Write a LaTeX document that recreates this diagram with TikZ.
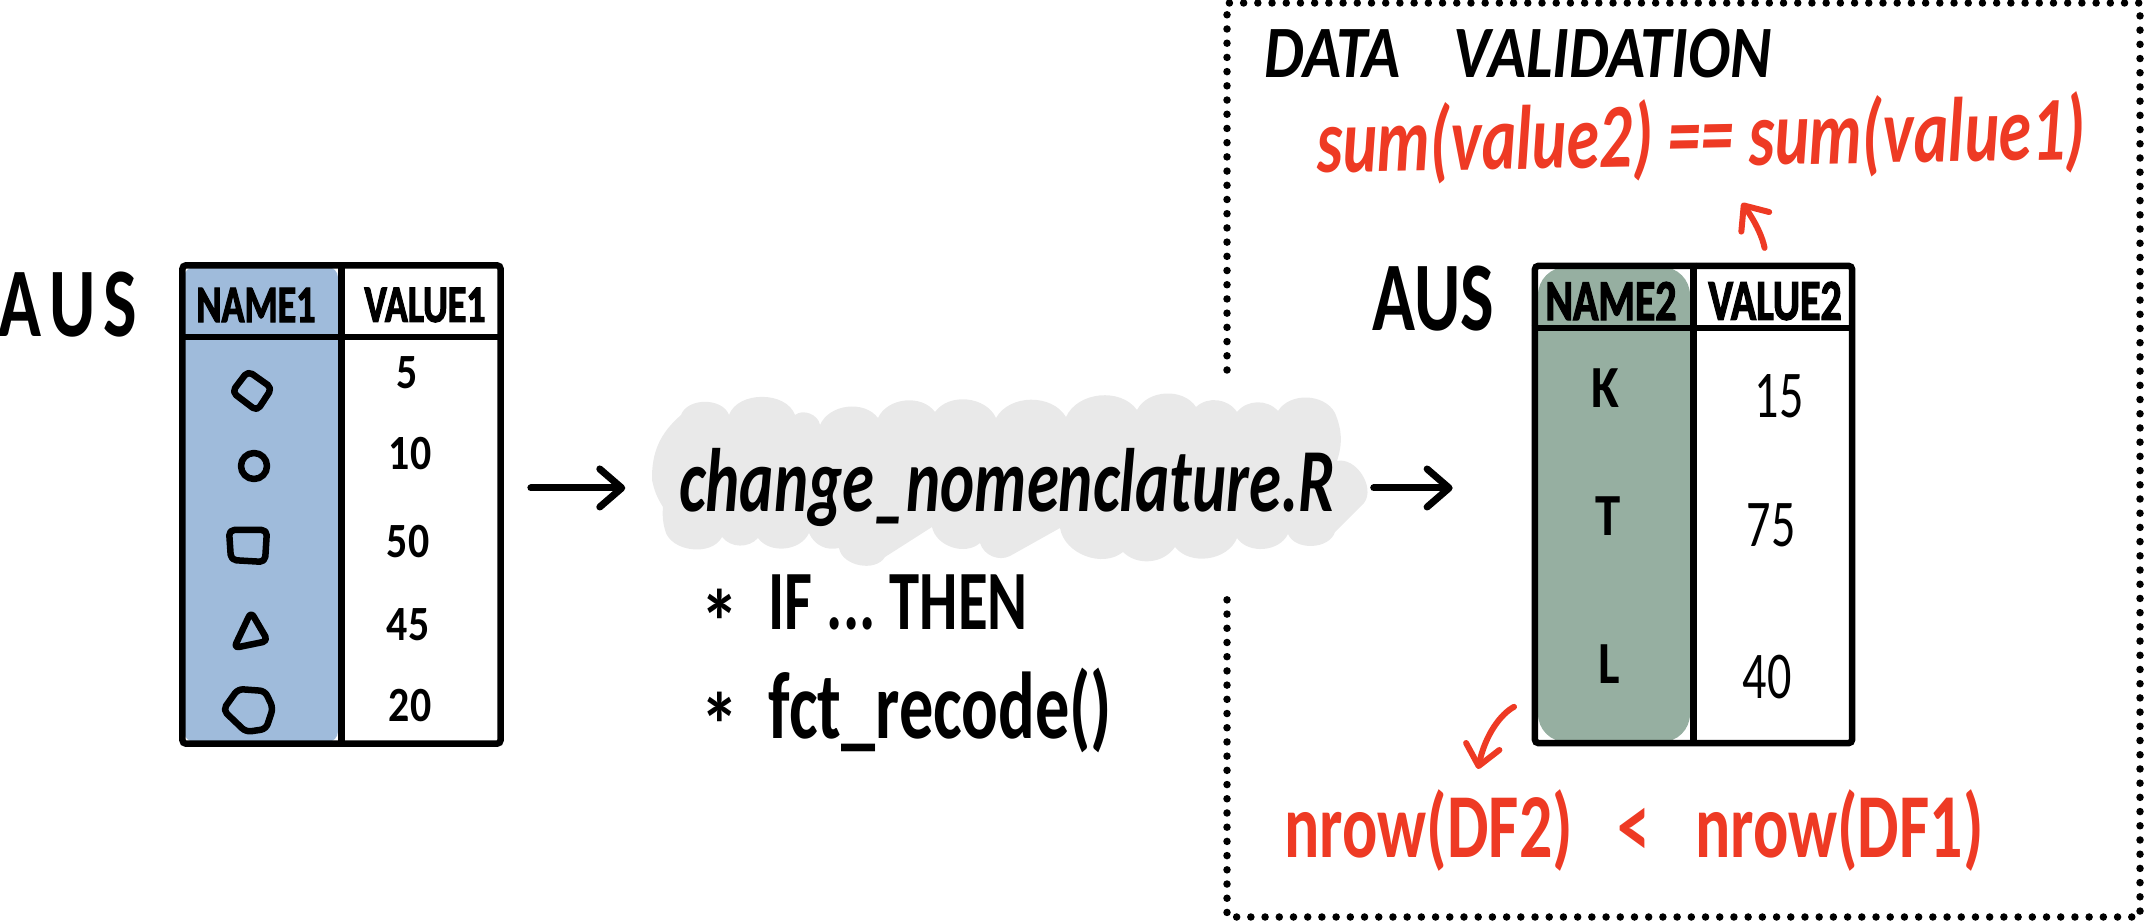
\documentclass[tikz,border=0pt]{standalone}
\usepackage{fontspec}
\setmainfont[FakeStretch=0.85]{Carlito}
\newfontfamily\handfont[FakeStretch=0.72]{Carlito}
\newfontfamily\heavyfont[FakeStretch=0.72,FakeBold=2]{Carlito Bold}
\usetikzlibrary{arrows.meta}
\definecolor{colblue}{HTML}{9FBBDB}
\definecolor{colgreen}{HTML}{96AFA1}
\definecolor{colcloud}{HTML}{E9E9E9}
\definecolor{colred}{HTML}{EE3A24}
\tikzset{tablebox/.style = {draw, line width=0.065cm, rectangle, rounded corners=1pt, minimum width=3.18cm, minimum height=4.78cm, inner sep=0pt},
         hdline/.style = {line width=0.065cm},
         scribble/.style = {draw, line width=0.065cm, line join=round, rounded corners=1.5pt},
         handarrow/.style = {line width=0.07cm, line cap=round, -{Straight Barb[length=0.22cm, width=0.38cm, round]}},
         redarrow/.style = {line width=0.06cm, colred, line cap=round, -{Straight Barb[length=0.2cm, width=0.34cm, round]}},
         hdtext/.style = {font=\heavyfont\fontsize{15}{15}\selectfont, inner sep=0pt},
         hdtextb/.style = {font=\heavyfont\fontsize{16.5}{16}\selectfont, inner sep=0pt},
         cell/.style = {font=\fontsize{14}{14}\selectfont\bfseries, inner sep=0pt},
         bigcell/.style = {font=\handfont\fontsize{19}{19}\selectfont, inner sep=0pt},
         lettercell/.style = {font=\fontsize{17}{17}\selectfont\bfseries, inner sep=0pt},
         aus/.style = {font=\handfont\fontsize{28}{28}\selectfont\bfseries, inner sep=0pt},
         note/.style = {font=\handfont\fontsize{24}{24}\selectfont\bfseries, inner sep=0pt},
         redtext/.style = {font=\handfont\fontsize{26}{26}\selectfont\bfseries, text=colred, inner sep=0pt}}
\begin{document}
\begin{tikzpicture}[x=0.01cm,y=-0.01cm]
    \useasboundingbox (0,0) rectangle (2145,922);
    % dotted frame, open behind the cloud
    \draw[line width=0.075cm, line cap=round, dash pattern=on 0pt off 0.142cm]
        (1227,370)--(1227,3)--(2140,3)--(2140,917)--(1227,917)--(1227,593);
    % cloud
    \fill[colcloud] (652,480) to[bend left=25] (681,415) to[bend left=70] (729,415)
        to[bend left=70] (795,415) to[bend left=60] (820,425) to[bend left=60] (878,418)
        to[bend left=60] (935,412) to[bend left=60] (996,418) to[bend left=60] (1066,417)
        to[bend left=60] (1137,410) to[bend left=60] (1196,407) to[bend left=50] (1237,412)
        to[bend left=50] (1278,411) to[bend left=60] (1335,413) to[bend left=20] (1337,461)
        to[bend left=70] (1364,503) -- (1335,532) to[bend left=70] (1288,534)
        to[bend left=60] (1237,538) to[bend left=60] (1175,547) to[bend left=50] (1123,552)
        to[bend left=60] (1060,528) -- (1010,556) to[bend left=50] (980,543)
        to[bend left=60] (932,527) -- (885,557) to[bend left=70] (839,548)
        to[bend left=40] (809,533) to[bend left=60] (758,538) to[bend left=50] (722,537)
        to[bend left=70] (665,530) to[bend left=10] (663,507) to[bend left=10] (652,480) -- cycle;
    % first table
    \fill[colblue, rounded corners=3pt] (184,267) rectangle (338,742);
    \node[tablebox](tabA) at (341.5,504.5){};
    \draw[hdline](tabA.north)--(tabA.south);
    \coordinate (headA) at (341,337);
    \draw[hdline](tabA.west |- headA)--(tabA.east |- headA);
    \node[aus](ausA) at (68,305){A\kern0.08em U\kern0.08em S};
    \node[hdtext](nameA) at (256,305){NAME1};
    \node[hdtext](valueA) at (425,305){VALUE1};
    \node[cell](vA) at (407,373){5};
    \node[cell](vB) at (410,454){10};
    \node[cell](vC) at (408,542){50};
    \node[cell](vD) at (408,625){45};
    \node[cell](vE) at (410,706){20};
    \draw[scribble] (248,371)--(272,388)--(257,411)--(232,392)--cycle;
    \draw[scribble] (254,466) ellipse (13 and 13);
    \draw[scribble] (229,530)--(267,530)--(265,562)--(231,560)--cycle;
    \draw[scribble] (251,612)--(268,641)--(234,648)--cycle;
    \draw[scribble] (238,689)--(265,691)--(273,708)--(266,729)--(246,732)--(223,710)--cycle;
    % script and its notes
    \node[font=\handfont\fontsize{25.6}{26}\selectfont\itshape\bfseries, inner sep=0pt](script) at (1007,488){change\_nomenclature.R};
    \node[note, anchor=west, font=\fontsize{26}{26}\selectfont\bfseries](astA) at (700,622){*};
    \node[note, anchor=west](ifthen) at (768,602){IF\,...\,THEN};
    \node[note, anchor=west, font=\fontsize{26}{26}\selectfont\bfseries](astB) at (700,725){*};
    \node[note, anchor=west, font=\handfont\fontsize{27}{27}\selectfont\bfseries](recode) at (768,710){fct\_recode()};
    % second table
    \fill[colgreen, rounded corners=8pt] (1538,267) rectangle (1690,742);
    \node[tablebox, minimum width=3.17cm, minimum height=4.77cm](tabB) at (1693.5,504.5){};
    \draw[hdline](tabB.north)--(tabB.south);
    \coordinate (headB) at (1693,328);
    \draw[hdline](tabB.west |- headB)--(tabB.east |- headB);
    \node[aus](ausB) at (1433,299){AUS};
    \node[hdtextb](nameB) at (1611,301){NAME2};
    \node[hdtextb](valueB) at (1775,301){VALUE2};
    \node[lettercell](kA) at (1605,388){K};
    \node[lettercell](kB) at (1608,516){T};
    \node[lettercell](kC) at (1609,664){L};
    \node[bigcell](wA) at (1779,396){15};
    \node[bigcell](wB) at (1771,525){75};
    \node[bigcell](wC) at (1767,677){40};
    % arrows
    \draw[handarrow, shorten <=0.27cm, shorten >=0.53cm](tabA.east |- script.west)--(script.west);
    \draw[handarrow, shorten <=0.38cm, shorten >=0.79cm](script.east)--(tabB.west |- script.east);
    % validation
    \node[font=\fontsize{21}{21}\selectfont\itshape\bfseries, anchor=west, inner sep=0pt](title) at (1264,54){DATA\hspace{0.72em}VALIDATION};
    \node[redtext, font=\handfont\fontsize{26}{26}\selectfont\itshape\bfseries, rotate=1](sumcheck) at (1701,139){sum(value2) == sum(value1)};
    \node[redtext](rowcheck) at (1634,830){nrow(DF2)\ \ \ <\ \ \ nrow(DF1)};
    \coordinate (sumtip) at (1742,203);
    \coordinate (rowtip) at (1478,769);
    \draw[redarrow, shorten <=0.15cm](tabB.73) to[bend right=12] (sumtip);
    \draw[redarrow, shorten <=0.2cm](tabB.230) to[bend right=25] (rowtip);
\end{tikzpicture}
\end{document}
